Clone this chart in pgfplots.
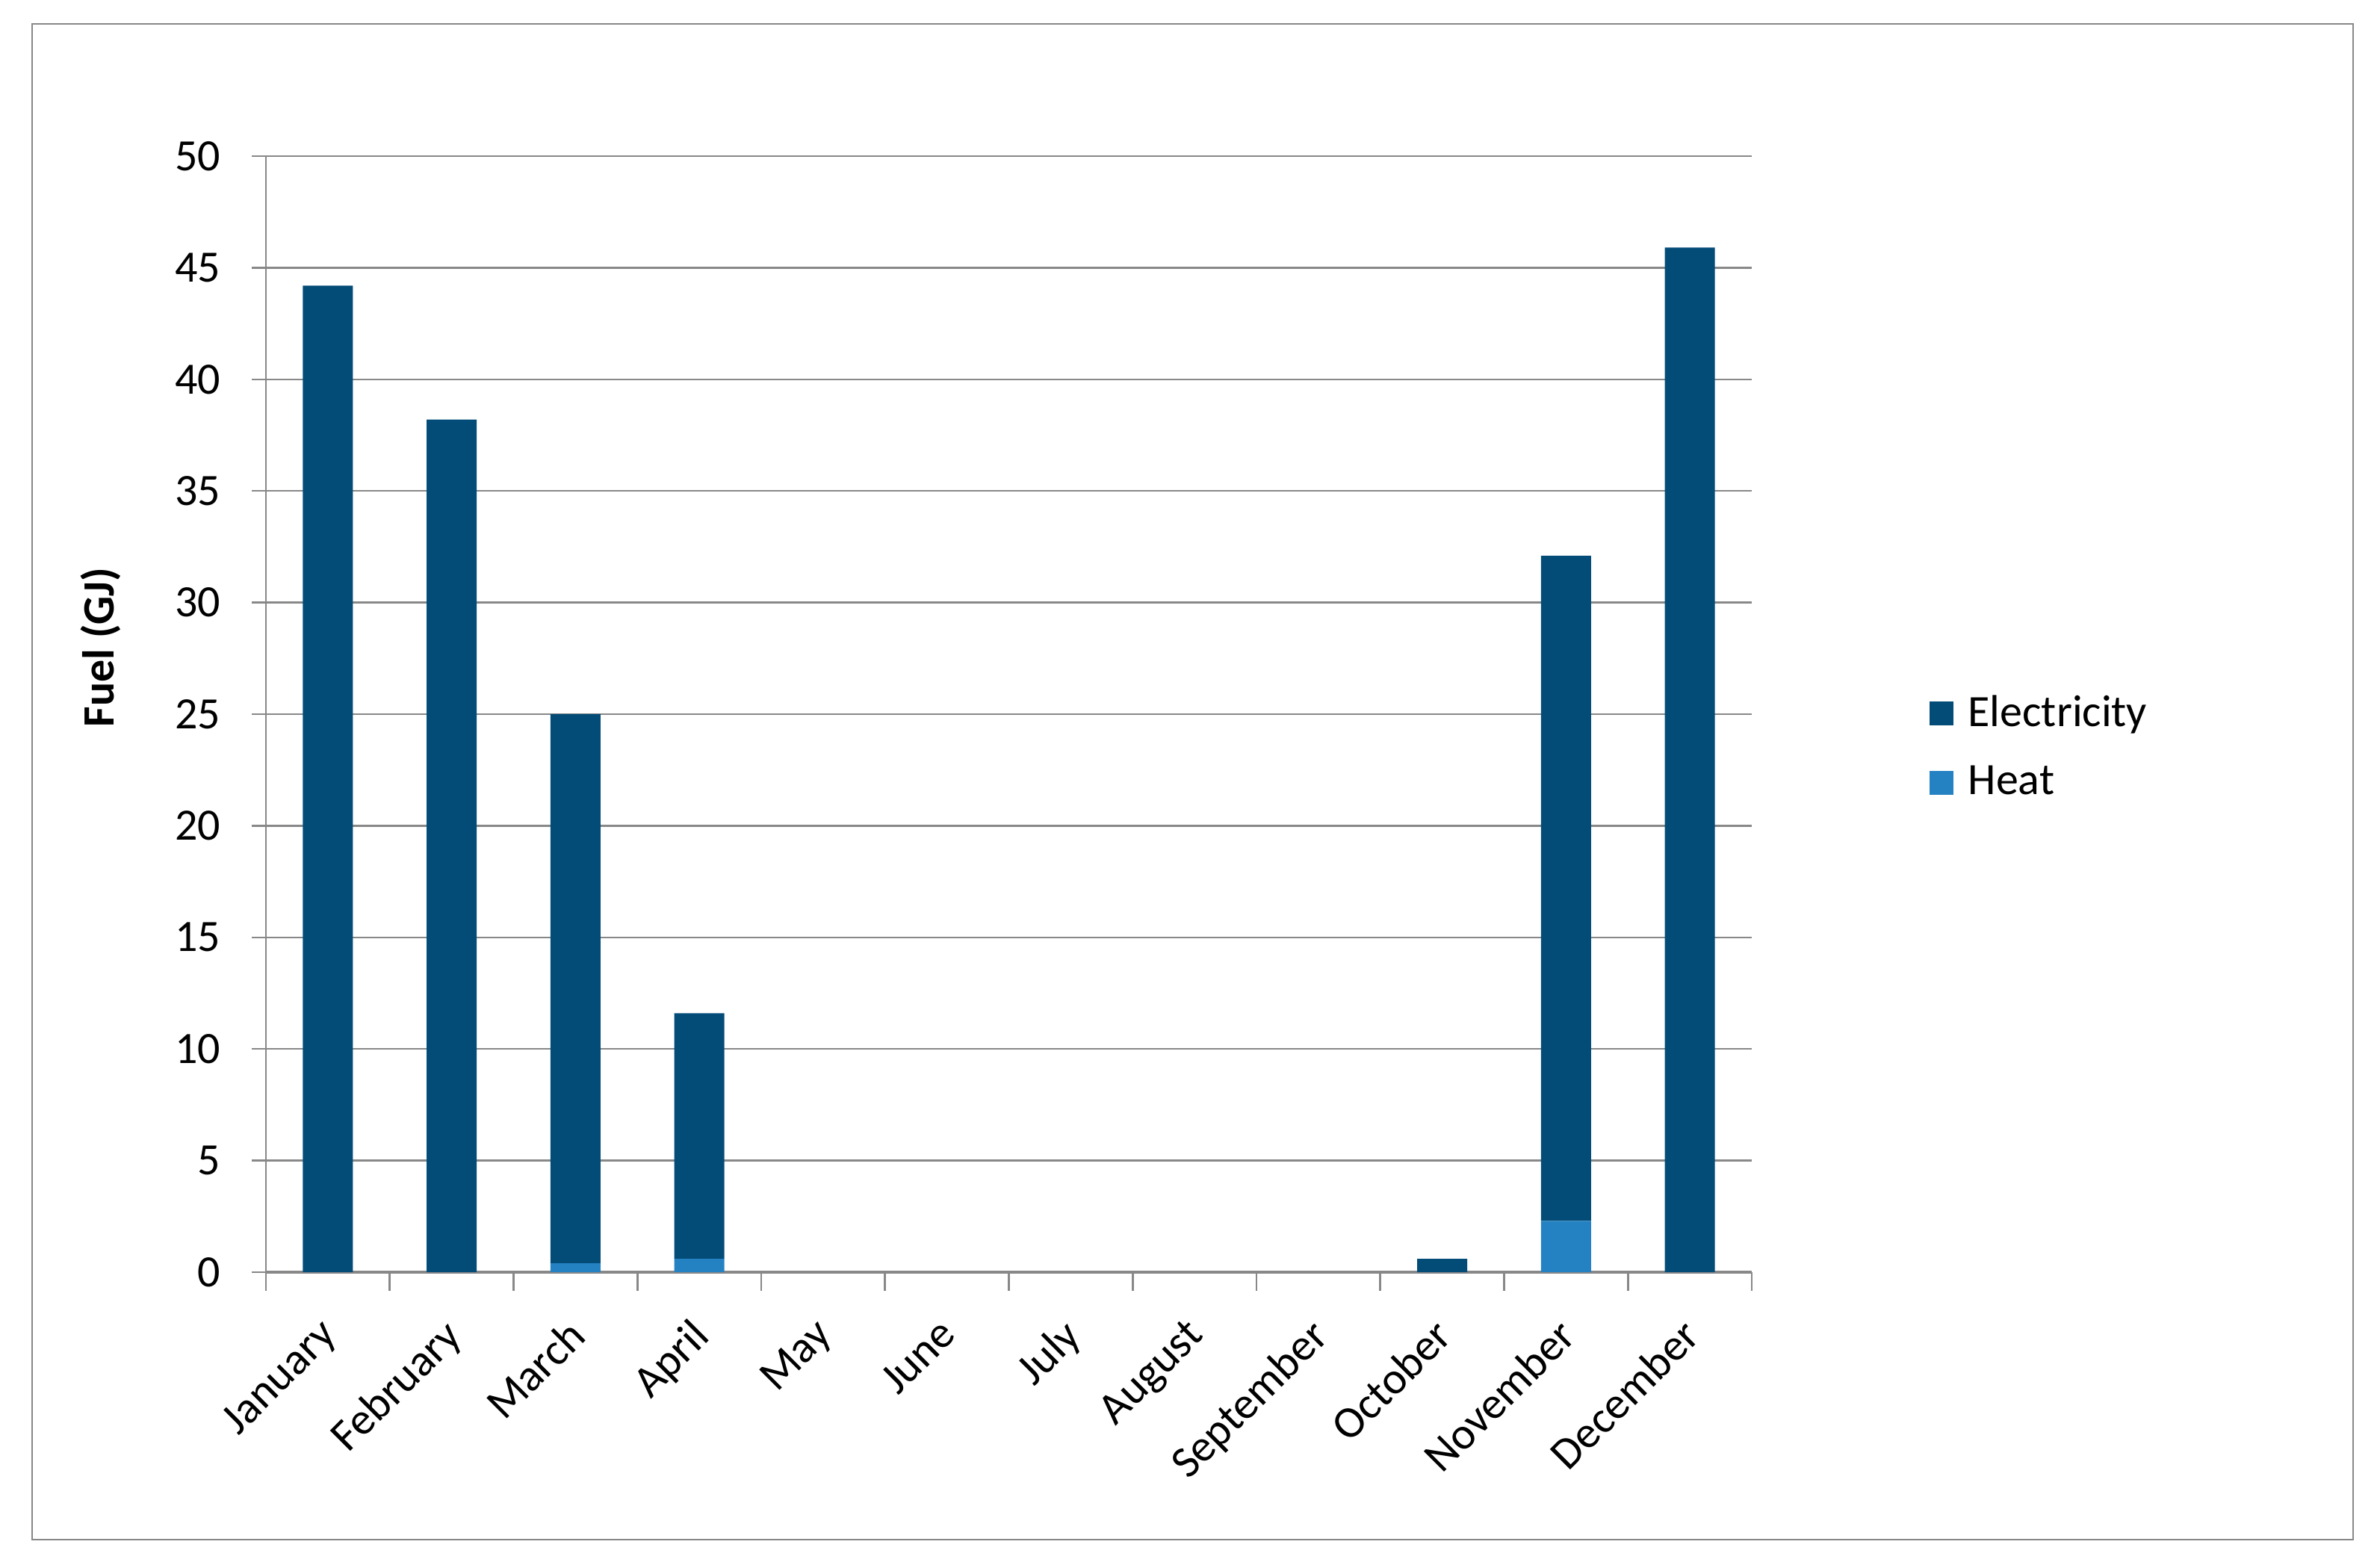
\documentclass[border=0pt]{standalone}
\usepackage{fontspec}
\setmainfont{Carlito}
\usepackage{pgfplots}
\pgfplotsset{compat=1.18}
\definecolor{elec}{RGB}{4,76,120}
\definecolor{heat}{RGB}{36,129,194}
\definecolor{axgray}{RGB}{136,136,136}
\begin{document}
\begin{tikzpicture}[font=\fontsize{12}{14}\selectfont]
\useasboundingbox (-71.2pt,-79.2pt) rectangle (566pt,340.6pt);
\draw[axgray, line width=0.45pt] (-62.6pt,-71.6pt) rectangle (558.8pt,334.2pt);
\begin{axis}[
  at={(0,0)}, anchor=south west, scale only axis,
  width=397.8pt, height=298.8pt,
  ybar stacked, bar width=13.4pt,
  every axis plot post/.append style={legend image code/.code={\fill[#1] (0pt,-3.2pt) rectangle (6.4pt,3.2pt);}},
  xmin=0.5, xmax=12.5, ymin=0, ymax=50,
  ytick={0,5,...,50},
  xtick={1,...,12},
  xticklabels={January,February,March,April,May,June,July,August,September,October,November,December},
  minor xtick={0.5,1.5,...,12.5},
  axis x line*=bottom, axis y line*=left,
  axis line style={axgray, line width=0.55pt},
  x axis line style={line width=0.9pt},
  ymajorgrids, grid style={axgray, line width=0.5pt},
  tick align=outside,
  major tick length=3.7pt, minor tick length=5pt,
  major x tick style={draw=none},
  minor x tick style={axgray, line width=0.55pt},
  ytick style={axgray, line width=0.5pt},
  /pgf/number format/assume math mode=true,
  xticklabel style={rotate=45, anchor=north east, inner sep=1pt, xshift=-6.5pt, yshift=-2.7pt},
  yticklabel style={xshift=-5pt},
  ylabel={\textbf{Fuel (GJ)}},
  ylabel style={at={(axis description cs:-0.111,0.56)}, anchor=center},
  legend style={draw=none, fill=none, at={(axis description cs:1.119,0.47)}, anchor=west, row sep=5.1pt, inner sep=0pt,
    nodes={inner xsep=4pt}},
  legend cell align=left,
  reverse legend,
]
\addplot[fill=heat, draw=none] coordinates {(1,0) (2,0) (3,0.4) (4,0.6) (5,0) (6,0) (7,0) (8,0) (9,0) (10,0) (11,2.3) (12,0)};
\addlegendentry{Heat}
\addplot[fill=elec, draw=none] coordinates {(1,44.2) (2,38.2) (3,24.6) (4,11.0) (5,0) (6,0) (7,0) (8,0) (9,0) (10,0.6) (11,29.8) (12,45.9)};
\addlegendentry{Electricity}
\end{axis}
\end{tikzpicture}
\end{document}
